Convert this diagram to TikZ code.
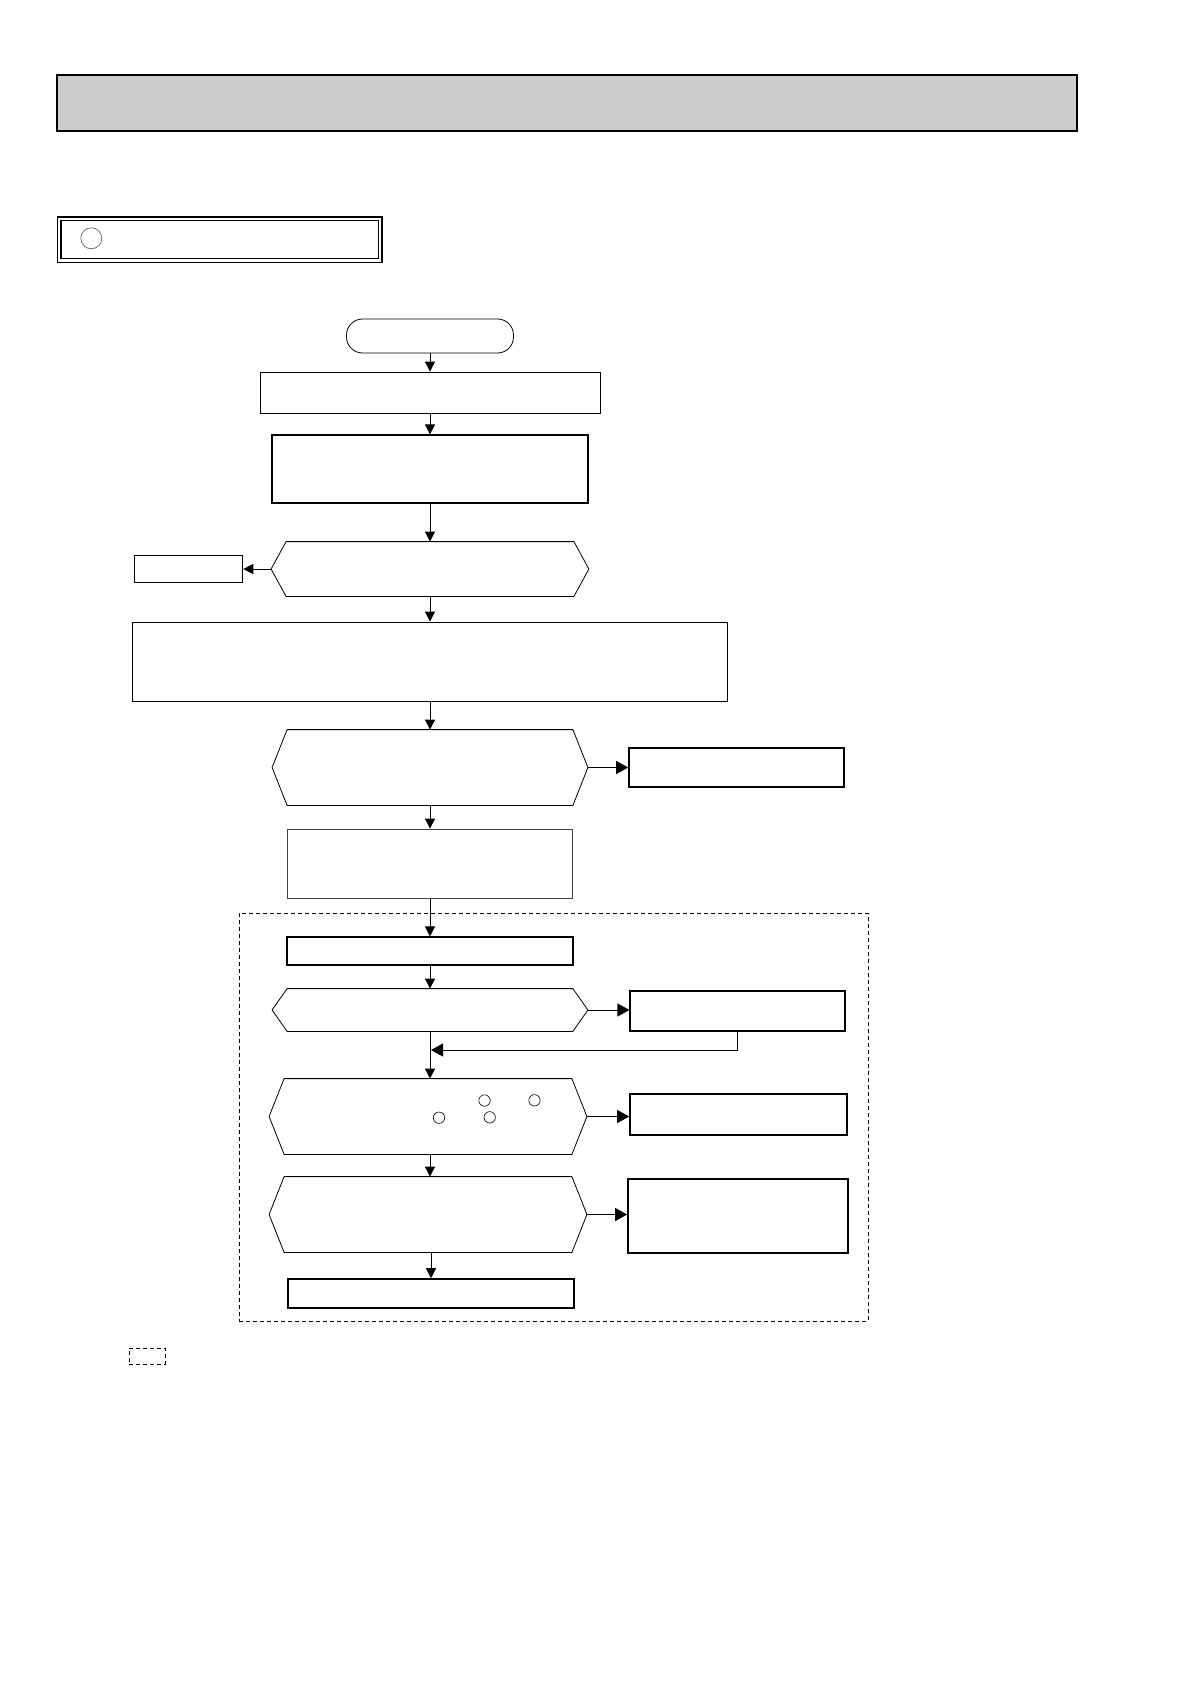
\documentclass[tikz,border=0pt]{standalone}
\usetikzlibrary{arrows.meta}
\definecolor{headgray}{HTML}{CCCCCC}
\begin{document}
\begin{tikzpicture}[x=1pt,y=-1pt,line width=0.8pt,
  box/.style n args={2}{draw,rectangle,inner sep=0pt,minimum width=#1pt,minimum height=#2pt},
  hexbox/.style n args={2}{rectangle,inner sep=0pt,minimum width=#1pt,minimum height=#2pt,
    append after command={\pgfextra{\draw ([xshift=15pt]\tikzlastnode.north west)
      -- ([xshift=-15pt]\tikzlastnode.north east) -- (\tikzlastnode.east)
      -- ([xshift=-15pt]\tikzlastnode.south east) -- ([xshift=15pt]\tikzlastnode.south west)
      -- (\tikzlastnode.west) -- cycle;}}},
  thickbox/.style={line width=1.6pt},
  dashbox/.style={dash pattern=on 4pt off 3pt},
  dot/.style={draw,circle,inner sep=0pt,minimum size=11.4pt,line width=0.6pt},
  arr/.style={-{Triangle[length=10pt,width=10pt]}},
  bigarr/.style={-{Triangle[length=12pt,width=13pt]}}]
  \useasboundingbox (0,0) rectangle (1191,1685);
  % heading
  \node[box={1020}{56},fill=headgray,line width=1.3pt] (header) at (567,103) {};
  \node[box={321}{41.5},double,line width=1.3pt,double distance=2.4pt] (titlebox) at (219.5,239.75) {};
  \node[dot,minimum size=21pt,draw=black!70] (titlemark) at (91.3,238.3) {};
  % main chain
  \node[box={167}{34},rounded corners=16pt] (start) at (430,336) {};
  \node[box={340}{41}] (check) at (430,392.5) {};
  \node[box={316}{68},line width=1.3pt] (measure) at (430,469) {};
  \node[hexbox={317}{54}] (askA) at (430,569) {};
  \node[box={108}{27},thickbox] (endA) at (188.5,569) {};
  \node[box={595}{79}] (procedure) at (430,661.5) {};
  \node[hexbox={315}{75}] (askB) at (430,767.5) {};
  \node[box={215}{39},thickbox] (endB) at (736.5,767.5) {};
  \node[box={285}{69},draw=black!75] (setup) at (430,863.5) {};
  % dashed part
  \node[box={629}{408},dashbox] (testarea) at (553.5,1117) {};
  \node[box={286}{28},line width=1.1pt] (stepA) at (430,951) {};
  \node[hexbox={315}{42}] (askC) at (430,1010) {};
  \node[box={215}{40},line width=1.1pt] (fixC) at (737.5,1011) {};
  \node[hexbox={317}{75}] (askD) at (428,1116.5) {};
  \node[box={217}{41},thickbox] (endD) at (738.5,1114.5) {};
  \node[hexbox={317}{75}] (askE) at (428,1214.5) {};
  \node[box={220}{74},thickbox] (endE) at (738,1216) {};
  \node[box={286}{29},thickbox] (finish) at (431,1293.5) {};
  \foreach \n/\x/\y in {1/484.5/1100.5,2/534.5/1100.3,3/439/1117.7,4/489.7/1117.3}
    \node[dot] (mark\n) at (\x,\y) {};
  \node[box={36}{16},dashbox,line width=0.6pt] (legend) at (147,1356) {};
  \coordinate (merge) at (431,1050);
  % arrows
  \draw[arr] (start) -- (check);
  \draw[arr] (check) -- (measure);
  \draw[arr] (measure) -- (askA);
  \draw[arr] (askA.west) -- (endA.east);
  \draw[arr] (askA) -- (procedure);
  \draw[arr] (procedure) -- (askB);
  \draw[bigarr] (askB.east) -- (endB.west);
  \draw[arr] (askB) -- (setup);
  \draw[arr] (setup) -- (stepA);
  \draw[arr] (stepA) -- (askC);
  \draw[bigarr] (askC.east) -- (askC.east -| fixC.west);
  \draw[bigarr] (fixC.south) |- (merge);
  \draw[arr] (askC.south) -- (askC.south |- askD.north);
  \draw[bigarr] (askD.east) -- (askD.east -| endD.west);
  \draw[arr] (askD.south -| askC.south) -- (askE.north -| askC.south);
  \draw[bigarr] (askE.east) -- (askE.east -| endE.west);
  \draw[arr] (askE.south -| finish.north) -- (finish.north);
\end{tikzpicture}
\end{document}
